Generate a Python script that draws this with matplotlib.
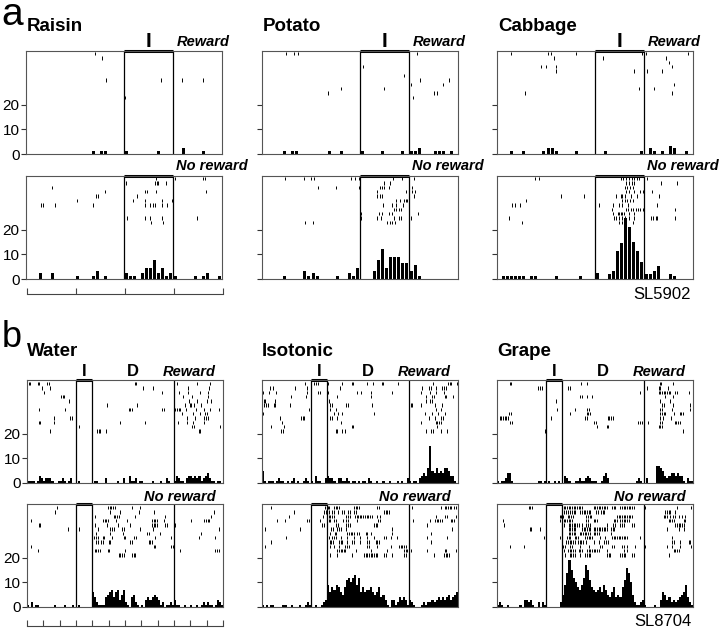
import matplotlib
matplotlib.use("Agg")
import matplotlib.pyplot as plt
import numpy as np

plt.rcParams['font.family'] = ['Liberation Sans', 'DejaVu Sans']

W, H = 720, 628

# ---------------- panel a : 4 s, cue "I" from 2 to 3, outcome at 3 ----------------
a_names = ['Raisin', 'Potato', 'Cabbage']

# histograms, 48 bins over 0..4
raisin_rew_h = [0, 0, 0, 0, 0, 0, 0, 0, 0, 0,
                0, 0, 0, 0, 0, 0, 1.2, 0, 1.2, 1.2,
                0, 0, 0, 0, 1.2, 0, 0, 0, 0, 0,
                0, 0, 1.2, 0, 0, 0, 0, 0, 2.3, 0,
                0, 0, 0, 1.2, 0, 0, 0, 0]
raisin_nor_h = [0, 0, 0, 2.3, 0, 0, 2.3, 0, 0, 0,
                0, 0, 1.2, 0, 0, 0, 1.2, 3.4, 0, 1.2,
                0, 0, 0, 0, 2.3, 1.2, 1.2, 0, 2.3, 4.6,
                4.6, 7.8, 2.3, 4.6, 1.2, 2.3, 1.2, 0, 0, 0,
                0, 1.2, 0, 1.2, 2.3, 0, 0, 1.2]
potato_rew_h = [0, 0, 0, 0, 0, 1.2, 0, 1.2, 1.2, 0,
                0, 0, 0, 0, 0, 0, 1.2, 0, 0, 1.2,
                0, 0, 0, 0, 1.2, 0, 0, 0, 0, 1.2,
                0, 0, 0, 0, 1.2, 0, 1.2, 1.2, 2.3, 0,
                0, 0, 1.2, 1.2, 1.2, 0, 1.2, 0]
potato_nor_h = [0, 0, 0, 0, 0, 1.2, 0, 0, 0, 0,
                3.4, 1.2, 2.3, 1.2, 0, 0, 0, 0, 1.2, 0,
                0, 2.3, 1.2, 4.5, 0, 0, 0, 3.4, 7.8, 12.2,
                4.5, 8.8, 8.8, 8.8, 6.7, 6.7, 3.4, 5.7, 1.2, 0,
                0, 0, 0, 0, 0, 0, 0, 0]
cabbage_rew_h = [0, 0, 0, 1.2, 0, 0, 1.2, 0, 0, 0,
                 0, 1.2, 2.3, 2.3, 1.2, 0, 0, 0, 0, 1.2,
                 0, 0, 0, 0, 0, 0, 1.2, 0, 0, 0,
                 0, 0, 0, 0, 0, 1.2, 0, 2.3, 1.2, 0,
                 1.2, 0, 3.4, 2.3, 0, 0, 1.2, 0]
cabbage_nor_h = [0, 1.2, 1.2, 1.2, 1.2, 1.2, 1.2, 0, 1.2, 1.2,
                 0, 0, 0, 0, 1.2, 0, 0, 0, 0, 0,
                 1.2, 0, 0, 0, 2.3, 0, 0, 2.2, 3.4, 11.4,
                 14.7, 24.7, 21.4, 15, 11.4, 6.9, 2.2, 2.2, 3.4, 5.5,
                 0, 0, 2.2, 1.1, 0, 0, 0, 0]

# rasters: one list of spike times per trial, top trial first
raisin_rew = [[1.41], [1.56], [], [], [], [], [1.63, 2.75, 3.18, 3.61], [], [], [], [2.02]]
raisin_nor = [
    [2.65, 3.04, 3.62, 3.66],
    [2.04, 2.63, 2.67, 2.70, 2.86],
    [0.54],
    [1.62, 2.43, 2.46, 2.65, 3.67],
    [1.43, 1.46, 2.26],
    [1.05, 2.18, 2.43, 2.77, 2.97],
    [0.31, 0.35, 0.59, 1.37, 2.43, 2.54, 2.59, 2.63, 2.77, 2.87],
    [], [],
    [2.07, 2.43, 2.54, 2.78, 3.48, 3.99],
    [2.56, 2.79, 2.99],
]
potato_rew = [
    [0.48, 0.65, 0.73, 3.17], [], [], [2.06], [], [2.9],
    [3.22, 3.82], [3.05, 3.7], [1.62, 2.49], [1.34, 3.51, 3.58], [3.09],
]
potato_nor = [
    [0.46, 0.85, 0.99, 1.07, 1.82, 1.89, 1.98, 2.67, 2.85, 3.1],
    [2.49, 2.61],
    [1.14, 1.5, 1.98, 2.41, 2.45, 2.49, 2.59, 3.07],
    [2.35, 2.94, 3.07, 3.13],
    [2.35, 2.41, 2.45, 3.1],
    [2.73, 2.81, 2.9, 2.93, 2.96],
    [2.47, 2.66, 2.73, 2.88],
    [2.69, 2.74, 2.79, 2.84],
    [2.02, 2.38, 2.45, 2.59, 2.66, 3.18],
    [2.02, 2.35, 2.42, 2.69, 2.79, 2.84, 3.0, 3.05],
    [0.87, 1.04, 2.56, 2.61, 2.66, 2.71],
]
cabbage_rew = [
    [0.29, 1.05, 1.11, 1.61, 2.95, 3.04, 3.9],
    [1.16, 2.17, 3.45],
    [3.52],
    [0.9, 1.01, 1.21, 3.58],
    [1.2, 2.8, 3.06, 3.37],
    [], [],
    [3.62],
    [2.89, 3.21],
    [0.58, 3.58],
    [],
]
cabbage_nor = [
    [0.78, 0.86, 2.53, 2.58, 2.64, 2.69, 2.75, 2.8, 2.85, 2.9, 3.06],
    [2.63, 2.7, 2.75, 2.8, 3.34, 3.68],
    [2.62, 2.66, 2.72, 2.77],
    [2.64, 2.7, 2.8, 2.92, 2.97, 3.17],
    [1.3, 1.77, 2.43, 2.53, 2.56, 2.62, 2.73, 2.85, 3.3],
    [0.59, 2.56, 2.61, 2.66, 2.72, 2.77],
    [0.3, 0.37, 0.46, 2.09, 2.36, 2.5, 2.55, 2.68, 3.27],
    [2.35, 2.63, 2.68, 2.73, 2.78, 2.83, 2.88, 2.92, 2.97, 3.63],
    [2.36, 2.46, 2.5, 2.53, 2.56, 2.6, 2.7, 2.79],
    [0.24, 2.38, 2.43, 2.5, 2.56, 2.62, 2.7, 2.8, 3.15, 3.19, 3.24, 3.27, 3.63],
    [0.51, 2.5, 2.55, 2.59, 2.63, 2.77],
]

# ---------------- panel b : 12 units, "I" 3..4, "D" 4..9, outcome at 9 ----------------
b_names = ['Water', 'Isotonic', 'Grape']

# histograms, 96 bins over 0..12
water_rew_h = [1, 1, 1, 1, 0, 1, 3, 2, 1, 2, 2, 2, 1, 0, 0, 1,
               1, 2, 1, 0, 1, 2, 0, 0, 0, 1, 0, 0, 0, 0, 0, 0,
               0, 1, 1, 0, 0, 0, 2, 0, 0, 0, 0, 0, 1, 0, 0, 2,
               0, 0, 3, 1, 1, 2, 0, 1, 1, 0, 0, 0, 0, 1, 0, 0,
               0, 1, 0, 0, 2, 1, 0, 0, 1, 3, 2, 1, 1, 0, 2, 3,
               3, 2, 3, 2, 3, 1, 2, 3, 4, 2, 1, 1, 0, 1, 1, 0]
water_nor_h = [1, 0, 2, 0, 1, 1, 0, 0, 0, 0, 0, 0, 0, 1, 0, 0,
               0, 0, 1, 0, 0, 0, 1, 0, 0, 1, 0, 0, 0, 0, 0, 0,
               6, 4, 2, 1, 1, 1, 4, 5, 6, 7, 4, 6, 7, 3, 5, 7,
               2, 1, 0, 4, 5, 2, 1, 0, 1, 0, 3, 4, 3, 4, 5, 4,
               3, 1, 2, 0, 1, 1, 2, 1, 3, 1, 1, 0, 0, 1, 0, 0,
               1, 0, 0, 1, 0, 1, 2, 1, 2, 1, 1, 0, 1, 3, 2, 1]
iso_rew_h = [5, 1, 0, 1, 1, 1, 0, 1, 2, 1, 1, 0, 1, 0, 1, 2,
             0, 1, 0, 0, 1, 2, 1, 0, 1, 0, 3, 1, 1, 0, 0, 2,
             3, 2, 2, 1, 0, 2, 2, 1, 1, 2, 1, 0, 1, 1, 0, 1,
             0, 1, 1, 0, 2, 1, 0, 0, 1, 0, 0, 1, 0, 0, 1, 0,
             0, 0, 1, 0, 1, 0, 0, 2, 1, 0, 1, 1, 0, 2, 3, 4,
             3, 6, 15, 5, 4, 6, 4, 5, 4, 6, 6, 5, 3, 3, 1, 0]
iso_nor_h = [1, 0, 1, 0, 1, 1, 0, 0, 0, 0, 1, 1, 0, 0, 1, 0,
             0, 0, 1, 0, 0, 1, 2, 1, 0, 0, 1, 0, 0, 1, 2, 3,
             9, 6, 8, 7, 9, 8, 6, 5, 8, 11, 12, 10, 12, 13, 9, 12,
             6, 8, 6, 7, 7, 8, 6, 5, 6, 8, 4, 5, 3, 1, 0, 3,
             3, 1, 2, 4, 3, 4, 3, 1, 3, 2, 1, 0, 0, 0, 1, 2,
             1, 2, 2, 3, 2, 3, 4, 3, 4, 3, 4, 5, 3, 4, 5, 6]
grape_rew_h = [1, 0, 1, 1, 2, 4, 4, 1, 0, 0, 0, 0, 0, 0, 0, 0,
               0, 0, 0, 0, 1, 1, 0, 1, 0, 1, 0, 0, 1, 0, 1, 0,
               0, 3, 2, 1, 0, 0, 1, 1, 2, 1, 1, 2, 3, 2, 1, 1,
               1, 0, 0, 1, 3, 4, 2, 0, 0, 0, 0, 0, 0, 0, 0, 0,
               0, 0, 0, 0, 1, 2, 1, 0, 0, 2, 0, 0, 0, 0, 7, 7,
               6, 5, 3, 2, 3, 4, 4, 3, 4, 3, 3, 1, 0, 2, 1, 1]
grape_nor_h = [1, 2, 1, 0, 0, 1, 0, 0, 0, 0, 0, 1, 0, 3, 3, 2,
               3, 1, 0, 0, 2, 0, 2, 1, 0, 0, 0, 0, 0, 0, 0, 2,
               5, 9, 14, 19, 15, 12, 10, 8, 7, 9, 12, 17, 15, 11, 8, 7,
               6, 7, 8, 6, 9, 7, 5, 4, 6, 8, 4, 5, 4, 8, 11, 16,
               14, 10, 5, 2, 1, 1, 2, 3, 1, 0, 0, 0, 0, 1, 0, 0,
               3, 6, 5, 3, 4, 2, 3, 2, 3, 4, 5, 6, 9, 4, 2, 1]

water_rew = [
    [0.1, 0.2, 0.65, 0.76, 1.22, 1.33, 6.59, 6.69, 9.18, 10.4, 11.18],
    [0.92, 1.43, 7.08, 7.71, 9.84, 11.12],
    [1.02, 8.27, 9.29, 9.86, 10.6, 11.06],
    [2.08, 2.18, 2.29, 9.55, 10.1, 11.06],
    [2.59, 9.9, 10.4, 11.02, 11.29],
    [4.9, 6.73, 9.65, 9.96, 10.06, 10.2, 10.67],
    [0.71, 2.35, 6.22, 6.33, 6.43, 8.27, 8.37, 9.08, 9.18, 9.29, 9.39, 9.76, 10.35, 10.82, 11.22, 11.78],
    [9.49, 10.16, 10.57, 10.92, 11.02],
    [1.63, 2.65, 2.76, 9.8, 10.27, 10.86, 10.96, 11.06],
    [0.71, 0.82, 1.67, 5.67, 7.2, 9.24, 9.8, 10.14, 10.82],
    [3.2, 10.1, 10.2, 11.84],
    [1.43, 4.29, 4.39, 4.49, 4.86, 10.51, 10.61],
]
water_nor = [
    [1.84, 4.96, 5.06, 5.16, 5.27, 5.37, 6.43, 6.94],
    [1.73, 5.1, 5.67, 6.84, 7.76, 11.43],
    [4.14, 5.31, 5.41, 5.51, 5.61, 6.63, 8.47, 11.27],
    [0.27, 4.65, 4.76, 4.86, 4.96, 5.47, 6.12, 7.65, 7.76, 7.86, 7.96, 8.37, 8.98, 10.04, 10.86, 10.96, 11.06, 11.16],
    [0.71, 0.82, 4.14, 4.9, 5.55, 6.33, 7.65, 7.76, 7.86, 7.96, 8.47, 8.57, 9.04],
    [2.51, 3.2, 4.33, 5.1, 5.2, 5.31, 5.82, 5.92, 6.9, 7.71, 11.78],
    [4.22, 5.1, 5.86, 7.35, 7.45, 8.16, 10.65],
    [4.12, 4.22, 4.33, 4.63, 4.73, 5.2, 5.92, 6.02, 6.57, 6.67, 7.86, 8.84, 10.55, 11.53],
    [4.24, 4.35, 4.55, 4.65, 5.0, 5.1, 6.33, 6.43, 7.45, 7.55, 7.65],
    [0.24, 7.76, 7.86, 8.84, 8.94],
    [0.65, 4.14, 4.24, 4.35, 4.45, 4.94, 5.04, 5.98, 9.39, 11.53, 11.63, 11.73],
    [5.61, 5.71, 5.82, 5.92, 6.43, 6.53, 6.63],
]
iso_rew = [
    [2.66, 3.21, 3.31, 3.42, 4.03, 4.87, 5.48, 5.58, 6.4, 6.81, 7.32, 7.42, 8.34, 10.47, 11.39, 11.49, 11.6, 11.96],
    [0.51, 0.65, 2.0, 2.76, 4.76, 9.82, 10.22, 10.33, 10.63, 11.04, 11.15, 11.25],
    [0.06, 0.41, 0.86, 2.76, 3.42, 3.58, 4.05, 5.79, 6.07, 6.65, 7.93, 9.71, 10.29, 10.63, 11.15],
    [1.8, 2.72, 4.6, 6.65, 10.02, 10.43, 10.53, 11.19, 11.29, 11.72],
    [0.1, 0.2, 0.78, 4.09, 10.02, 10.29, 10.39],
    [0.14, 0.24, 0.35, 0.72, 0.82, 1.74, 4.19, 4.29, 5.17, 5.28, 6.75, 9.1, 9.2, 9.71, 10.59, 11.04],
    [2.86, 4.19, 4.5, 10.63, 10.94],
    [0.06, 4.4, 4.64, 4.91, 6.85, 9.98, 10.43, 10.8, 11.19],
    [1.08, 2.39, 2.49, 2.6, 4.19, 4.29, 4.6, 10.22, 10.59, 10.94, 11.1],
    [1.23, 4.81, 9.71, 10.63, 10.74, 10.84, 10.94],
    [0.55, 1.37, 5.48, 5.58, 10.74],
    [1.19, 1.29, 4.5, 4.6, 4.87, 5.11, 10.02, 10.37, 10.47, 10.94, 11.35],
]
iso_nor = [
    [0.57, 3.84, 4.03, 4.13, 4.4, 4.5, 4.6, 4.7, 5.62, 5.73, 5.83, 5.93, 7.06, 7.16, 9.2, 10.94,
     11.19, 11.29, 11.39, 11.49, 11.6, 11.76, 11.86],
    [1.94, 3.78, 3.89, 4.09, 4.29, 4.4, 4.64, 4.91, 5.05, 5.26, 5.38, 5.62, 5.73, 7.46, 7.57, 7.67, 7.77],
    [1.64, 3.74, 4.09, 4.19, 4.29, 4.4, 5.17, 5.28, 5.38, 5.69, 5.79, 5.89, 5.99, 6.09, 6.19, 6.3,
     6.4, 6.5, 6.6, 6.71, 7.06, 7.22, 10.63, 11.19, 11.31, 11.86],
    [0.92, 1.43, 2.76, 2.86, 3.58, 4.09, 4.19, 4.4, 4.5, 4.97, 5.17, 5.28, 5.79, 7.12, 7.22, 9.26,
     10.29, 10.59, 10.69, 10.8, 10.9, 11.0, 11.55, 11.66, 11.76],
    [3.68, 3.78, 4.56, 4.66, 5.17, 5.28, 5.38, 6.85, 6.95, 7.06, 10.12],
    [0.2, 2.35, 4.23, 4.34, 4.6, 4.7, 4.81, 5.17, 7.98, 11.66],
    [4.19, 4.46, 4.56, 5.21, 5.31, 5.42, 5.52, 5.62, 5.83, 5.93, 6.34, 6.44, 6.65, 7.98, 10.33],
    [1.49, 4.09, 4.29, 4.4, 4.5, 4.81, 5.21, 5.62, 6.03, 6.44, 6.85, 7.46, 7.57, 7.87, 8.28, 10.12, 11.35],
    [0.55, 4.15, 4.25, 4.36, 4.7, 4.81, 4.91, 5.21, 5.52, 5.62, 6.03, 6.44, 6.54, 6.95, 7.06, 7.16, 10.33],
    [0.2, 4.19, 4.4, 4.7, 5.11, 5.21, 5.32, 6.44, 6.54, 7.06, 7.87, 8.38, 8.48, 8.59, 8.69, 8.79],
    [4.6, 4.7, 4.81, 4.91, 5.01, 5.11, 5.73, 6.69, 7.67, 8.69, 8.79, 8.9, 9.1, 10.12, 11.19, 11.29, 11.86],
    [4.19, 4.6, 5.52, 6.24, 6.34, 6.44, 6.54, 6.65, 6.75, 6.85, 6.95, 7.06, 7.46, 7.57, 7.98, 8.69,
     8.79, 10.53, 11.15, 11.25, 11.35, 11.45],
]
grape_rew = [
    [0.78, 0.88, 5.14, 5.53, 9.96, 10.06, 10.76],
    [2.52, 2.62, 2.73, 4.36, 4.47, 9.18, 9.9, 10.0, 10.45],
    [8.73, 9.9, 10.0, 10.1, 10.2, 10.31, 10.41, 10.51, 10.61, 10.92, 11.02, 11.74],
    [5.08, 5.18, 5.53, 5.8, 10.31, 10.78],
    [3.61, 9.96, 10.61],
    [10.1, 10.2, 10.78, 11.8],
    [3.69, 4.77, 5.53, 5.64, 10.0, 10.1, 10.72, 11.8],
    [0.74, 0.84, 4.47, 5.49, 5.59, 5.7, 10.0, 10.1, 10.2, 10.31, 10.82, 11.19, 11.29, 11.39],
    [0.16, 0.27, 0.37, 0.47, 0.57, 0.68, 3.3, 5.39, 5.49, 6.78, 6.88, 6.99, 7.09, 10.0, 10.16, 10.68],
    [0.82, 0.92, 5.94, 6.05, 8.61, 8.73, 8.87, 9.22, 9.96, 10.1, 10.88, 10.98, 11.08, 11.19],
    [6.15, 6.72, 6.82, 9.9, 10.0, 10.1],
    [2.93, 11.39, 11.99],
]
grape_nor = [
    [1.94, 2.04, 2.14, 4.08, 4.18, 4.29, 4.39, 4.49, 4.59, 4.69, 4.8, 4.9, 5.0, 5.1, 5.2, 5.92, 6.02,
     6.12, 6.22, 6.33, 6.43, 6.53, 6.63, 6.73, 7.04, 7.14, 7.24, 7.55, 7.65, 7.76, 7.86, 7.96, 8.06,
     8.16, 8.27, 8.37, 9.08, 11.02, 11.88, 11.98],
    [4.12, 4.22, 4.33, 4.49, 4.59, 4.69, 4.8, 5.1, 5.2, 5.31, 5.41, 5.51, 5.61, 5.71, 6.08, 6.18,
     6.37, 6.47, 6.57, 10.31, 10.41, 10.51, 10.61, 10.92],
    [3.84, 3.94, 4.04, 4.33, 4.43, 4.53, 4.63, 5.47, 5.57, 5.67, 5.78, 7.35, 7.45, 7.55, 7.65, 7.76,
     7.86, 7.96, 8.06, 8.16, 8.27, 10.2, 10.31, 10.41, 10.61, 10.76, 10.92, 11.12, 11.33, 11.53],
    [0.37, 3.84, 4.08, 4.18, 4.29, 4.39, 4.49, 4.59, 5.47, 5.57, 5.92, 6.02, 6.12, 7.14, 7.24, 7.35,
     7.55, 7.65, 7.76, 7.86, 7.96, 8.06, 10.51, 10.61, 10.71, 10.82, 11.43, 11.53],
    [0.41, 4.08, 4.39, 4.49, 4.59, 4.69, 4.8, 4.9, 5.0, 5.2, 5.47, 5.57, 5.67, 6.73, 7.1, 7.2, 7.55,
     7.65, 7.76, 8.27, 8.37, 10.92, 11.02, 11.12, 11.22, 11.33, 11.43],
    [2.0, 2.1, 2.61, 3.98, 4.39, 4.49, 4.59, 4.69, 4.8, 5.2, 5.31, 5.41, 5.51, 5.61, 5.71, 5.92, 6.02,
     6.12, 6.22, 6.33, 6.43, 6.53, 6.63, 6.73, 6.98, 7.08, 7.18, 10.41, 11.12, 11.43],
    [4.39, 4.49, 4.59, 4.69, 4.8, 5.06, 5.16, 5.27, 5.37, 5.47, 5.57, 5.67, 5.92, 6.02, 6.12, 6.22, 6.98],
    [2.86, 3.88, 4.29, 4.39, 4.49, 4.76, 4.86, 4.96, 5.41, 5.51, 5.61, 5.71, 5.82, 6.33, 6.63, 7.04,
     7.14, 7.24, 7.35, 7.45, 7.55, 7.65, 7.76, 7.86, 7.96, 8.78, 10.71],
    [4.24, 4.35, 4.45, 4.55, 4.65, 4.76, 4.96, 5.06, 5.16, 5.27, 5.47, 5.92, 6.22, 6.57, 6.67, 6.78,
     10.71, 10.82, 11.22, 11.73, 11.84],
    [0.82, 1.63, 4.04, 4.14, 4.49, 4.59, 5.1, 5.61, 6.33, 6.43, 7.04, 7.14, 7.65, 7.76, 7.96, 8.47,
     9.08, 10.41, 10.71, 11.22, 11.88],
    [3.98, 4.08, 4.35, 4.45, 4.55, 4.65, 4.76, 5.0, 5.1, 5.2, 5.51, 5.61, 5.71, 5.82, 5.92, 6.02,
     6.12, 6.22, 6.73, 7.76, 7.96, 10.82, 10.92, 11.02, 11.12],
    [4.18, 4.45, 4.55, 4.65, 4.76, 5.1, 5.41, 5.51, 5.61, 5.71, 6.73, 6.84, 6.94, 7.55, 7.65, 7.76,
     7.86, 8.27, 8.37, 10.51],
]

a_data = [(raisin_rew, raisin_rew_h, raisin_nor, raisin_nor_h),
          (potato_rew, potato_rew_h, potato_nor, potato_nor_h),
          (cabbage_rew, cabbage_rew_h, cabbage_nor, cabbage_nor_h)]
b_data = [(water_rew, water_rew_h, water_nor, water_nor_h),
          (iso_rew, iso_rew_h, iso_nor, iso_nor_h),
          (grape_rew, grape_rew_h, grape_nor, grape_nor_h)]

YMAX = 42
fig = plt.figure(figsize=(W / 100, H / 100), dpi=100)


def px_ax(left, top, w, h):
    return fig.add_axes([left / W, 1 - (top + h) / H, w / W, h / H])


def style(ax, xmax, labels):
    ax.set_xlim(0, xmax)
    ax.set_ylim(0, YMAX)
    ax.set_xticks([])
    ax.set_yticks([0, 10, 20])
    ax.tick_params(axis='y', direction='out', length=3.5, width=0.8, pad=1,
                   labelsize=11, color='#333333')
    if not labels:
        ax.set_yticklabels([])
    for s in ax.spines.values():
        s.set_linewidth(0.8)
        s.set_color('#555555')


def raster(ax, trials, y0, dy):
    for k, times in enumerate(trials):
        if times:
            y = y0 - k * dy
            ax.vlines(times, y - 0.7, y + 0.7, color='k', lw=0.7)


def window(ax, lines, box):
    for xv in lines:
        ax.axvline(xv, color='k', lw=0.9)
    ax.plot(box, [YMAX, YMAX], color='k', lw=2.2, clip_on=False, solid_capstyle='butt')


# ---------------- draw panel a ----------------
a_left = [26, 262, 497]
a_top = [51, 176]
bw_a = 4 / 48
cent_a = (np.arange(48) + 0.5) * bw_a
for c, (name, d) in enumerate(zip(a_names, a_data)):
    for r in range(2):
        ax = px_ax(a_left[c], a_top[r], 196, 103)
        style(ax, 4, c == 0)
        raster(ax, d[2 * r], 41, 1.8)
        ax.bar(cent_a, d[2 * r + 1], width=bw_a * 0.75, color='k', linewidth=0)
        window(ax, (2, 3), (2, 3))
        tr = ax.get_xaxis_transform()
        if r == 0:
            ax.text(2.5, 1.04, 'I', transform=tr, ha='center', va='baseline',
                    fontsize=15, fontweight='bold')
            ax.text(3.08, 1.049, 'Reward', transform=tr, ha='left', va='baseline',
                    fontsize=10.5, fontweight='bold', fontstyle='italic')
        else:
            ax.text(3.06, 1.058, 'No reward', transform=tr, ha='left', va='baseline',
                    fontsize=10.5, fontweight='bold', fontstyle='italic')
    fig.text((a_left[c] + 1) / W, 1 - 31 / H, name, fontsize=13.5, fontweight='bold', va='baseline')

# ---------------- draw panel b ----------------
b_left = [27, 262, 497]
b_top = [380, 504]
edges_b = np.linspace(0, 12, 97)
for c, (name, d) in enumerate(zip(b_names, b_data)):
    for r in range(2):
        ax = px_ax(b_left[c], b_top[r], 196, 103)
        style(ax, 12, c == 0)
        raster(ax, d[2 * r], 40.5, 1.75)
        ax.stairs(d[2 * r + 1], edges_b, fill=True, color='k', lw=0)
        window(ax, (3, 4, 9), (3, 4))
        tr = ax.get_xaxis_transform()
        if r == 0:
            ax.text(3.5, 1.04, 'I', transform=tr, ha='center', va='baseline',
                    fontsize=12, fontweight='bold')
            ax.text(6.5, 1.04, 'D', transform=tr, ha='center', va='baseline',
                    fontsize=12, fontweight='bold')
            ax.text(11.57, 1.04, 'Reward', transform=tr, ha='right', va='baseline',
                    fontsize=10.5, fontweight='bold', fontstyle='italic')
        else:
            ax.text(11.57, 1.03, 'No reward', transform=tr, ha='right', va='baseline',
                    fontsize=10.5, fontweight='bold', fontstyle='italic')
    fig.text(b_left[c] / W, 1 - 356 / H, name, fontsize=13.5, fontweight='bold', va='baseline')


# time scale bars under the first column
def time_bar(y, nt):
    tb = fig.add_axes([27 / W, 1 - y / H, 196 / W, 0.001])
    tb.set_xlim(0, nt)
    tb.set_xticks(range(nt + 1))
    tb.set_yticks([])
    for side in ('top', 'left', 'right'):
        tb.spines[side].set_visible(False)
    tb.spines['bottom'].set_linewidth(0.8)
    tb.spines['bottom'].set_color('#444444')
    tb.tick_params(axis='x', direction='in', length=4, width=0.8, labelbottom=False, color='#444444')
    tb.patch.set_visible(False)


time_bar(294.5, 4)
time_bar(626, 12)

fig.text(1 / W, 1 - 25 / H, 'a', fontsize=28, va='baseline')
fig.text(2 / W, 1 - 347 / H, 'b', fontsize=26, va='baseline')
fig.text(691 / W, 1 - 299 / H, 'SL5902', fontsize=12, ha='right', va='baseline')
fig.text(692 / W, 1 - 626.5 / H, 'SL8704', fontsize=12, ha='right', va='baseline')

fig.savefig('out.png', dpi=100)
